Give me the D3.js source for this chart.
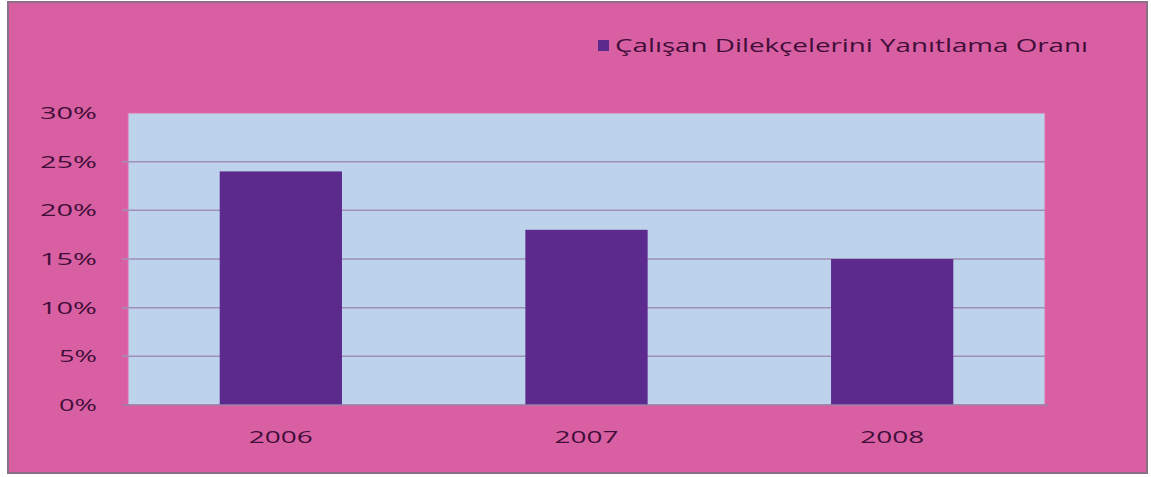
<!DOCTYPE html>
<html lang="tr">
<head>
<meta charset="UTF-8">
<title>Çalışan Dilekçelerini Yanıtlama Oranı</title>
<script src="https://d3js.org/d3.v7.min.js"></script>
<style>
    body{ margin:0; background:#fff; }
    text{ font-family: "Open Sans", "DejaVu Sans", sans-serif; fill:#400e38; }
</style>
</head>
<body>
<svg id="chart" width="1151" height="477"></svg>
<script>
    // data
    let years = ["2006", "2007", "2008"]
    let rates = [0.24, 0.18, 0.15]
    let yTicks = [0, 0.05, 0.10, 0.15, 0.20, 0.25, 0.30]
    let seriesName = "Çalışan Dilekçelerini Yanıtlama Oranı"

    let svg = d3.select("#chart")
    let plot = {left: 128, right: 1045, top: 113, bottom: 405}
    let charW = 19   // the source text is stretched sideways

    // outer frame
    svg.append("rect")
        .attr("x", 8).attr("y", 2)
        .attr("width", 1139).attr("height", 471)
        .attr("fill", "#d95fa3")
        .attr("stroke", "#8a6f86").attr("stroke-width", 2)

    // plot area
    svg.append("rect")
        .attr("x", plot.left).attr("y", plot.top)
        .attr("width", plot.right - plot.left).attr("height", plot.bottom - plot.top)
        .attr("fill", "#bdd3ec")
        .attr("stroke", "#e46aa8").attr("stroke-width", 1)

    let x = d3.scaleBand()
        .domain(years)
        .range([plot.left, plot.right])
        .paddingInner(0.6)
        .paddingOuter(0.3)

    let y = d3.scaleLinear()
        .domain([0, 0.30])
        .range([plot.bottom, plot.top])

    // gridlines
    svg.append("g")
        .selectAll("line")
        .data(yTicks.filter(d => d > 0 && d < 0.30))
        .join("line")
        .attr("x1", plot.left - 6).attr("x2", plot.right)
        .attr("y1", d => y(d)).attr("y2", d => y(d))
        .attr("stroke", "#9f8fb6").attr("stroke-width", 1.5)

    // bars
    svg.append("g")
        .selectAll("rect")
        .data(rates)
        .join("rect")
        .attr("x", (d, i) => x(years[i]))
        .attr("y", d => y(d))
        .attr("width", x.bandwidth())
        .attr("height", d => y(0) - y(d))
        .attr("fill", "#5c2a8c")

    // y axis
    let fmt = d3.format(".0%")
    let yAxis = svg.append("g")
        .attr("transform", `translate(${plot.left},0)`)
        .call(d3.axisLeft(y).tickValues(yTicks).tickFormat(fmt).tickSize(0).tickPadding(31))
    yAxis.select(".domain").remove()
    yAxis.selectAll("text")
        .attr("font-size", 17)
        .attr("textLength", d => fmt(d).length * charW)
        .attr("lengthAdjust", "spacingAndGlyphs")

    // x axis
    let xAxis = svg.append("g")
        .attr("transform", `translate(0,${plot.bottom})`)
        .call(d3.axisBottom(x).tickSize(0))
    xAxis.select(".domain").attr("d", `M${plot.left - 6},0H${plot.right + 3}`)
        .attr("stroke", "#9a7fa8").attr("stroke-width", 1.5)
    xAxis.selectAll("text")
        .attr("font-size", 17)
        .attr("y", 32)
        .attr("dy", "0.35em")
        .attr("textLength", 64)
        .attr("lengthAdjust", "spacingAndGlyphs")

    // legend
    let legend = svg.append("g").attr("transform", "translate(598,40)")
    legend.append("rect")
        .attr("width", 11).attr("height", 11)
        .attr("fill", "#5c2a8c")
    legend.append("text")
        .attr("x", 17).attr("y", 12)
        .attr("font-size", 18)
        .attr("textLength", 473)
        .attr("lengthAdjust", "spacingAndGlyphs")
        .text(seriesName)
</script>
</body>
</html>
